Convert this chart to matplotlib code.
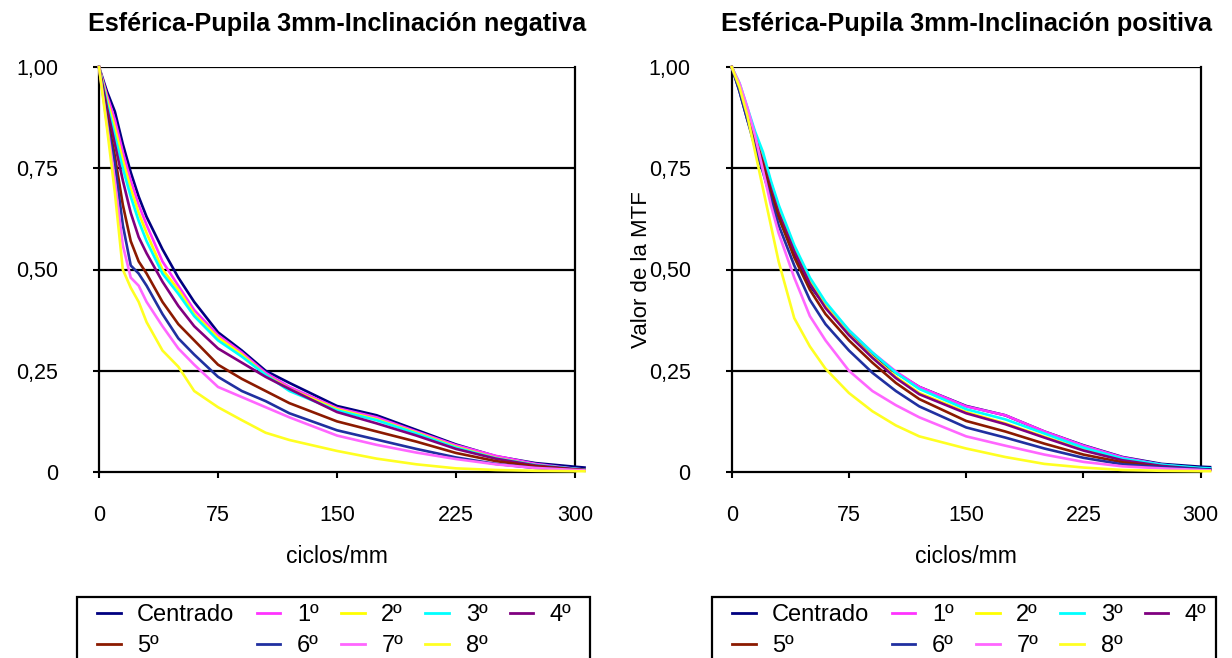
import numpy as np
import matplotlib
matplotlib.use("Agg")
import matplotlib.pyplot as plt
from matplotlib.patches import Rectangle

plt.rcParams['font.family'] = ['Liberation Sans', 'DejaVu Sans']

# --------------------------------------------------
# DATA
# --------------------------------------------------

freq = [0, 5, 10, 15, 20, 25, 30, 40, 50, 60, 75, 90, 105, 120,
        150, 175, 200, 225, 250, 275, 300, 306]

series_names = ["Centrado", "1º", "2º", "3º", "4º", "5º", "6º", "7º", "8º"]
series_colors = ["#000080", "#FF33FF", "#FFFF00", "#00FFFF", "#800080",
                 "#8B1A00", "#2030A0", "#FF66FF", "#FFFF22"]

# Inclinación negativa
neg_centrado = [1.0, 0.94, 0.89, 0.81, 0.74, 0.68, 0.63, 0.55, 0.48, 0.42, 0.345, 0.30, 0.25, 0.22,
                0.163, 0.14, 0.104, 0.068, 0.039, 0.022, 0.013, 0.011]
neg_1 = [1.0, 0.93, 0.87, 0.79, 0.72, 0.66, 0.61, 0.52, 0.46, 0.40, 0.338, 0.295, 0.245, 0.21,
         0.158, 0.135, 0.10, 0.066, 0.04, 0.02, 0.008, 0.006]
neg_2 = [1.0, 0.92, 0.85, 0.77, 0.70, 0.64, 0.59, 0.50, 0.45, 0.39, 0.332, 0.29, 0.24, 0.205,
         0.155, 0.13, 0.097, 0.062, 0.035, 0.017, 0.007, 0.005]
neg_3 = [1.0, 0.91, 0.83, 0.75, 0.68, 0.62, 0.57, 0.49, 0.44, 0.385, 0.325, 0.285, 0.24, 0.20,
         0.152, 0.128, 0.095, 0.06, 0.034, 0.017, 0.008, 0.006]
neg_4 = [1.0, 0.90, 0.81, 0.72, 0.64, 0.58, 0.54, 0.47, 0.41, 0.36, 0.305, 0.27, 0.235, 0.205,
         0.148, 0.12, 0.09, 0.057, 0.033, 0.016, 0.007, 0.005]
neg_5 = [1.0, 0.88, 0.78, 0.66, 0.57, 0.52, 0.49, 0.42, 0.365, 0.325, 0.265, 0.23, 0.20, 0.17,
         0.125, 0.10, 0.075, 0.047, 0.027, 0.014, 0.006, 0.005]
neg_6 = [1.0, 0.87, 0.76, 0.61, 0.51, 0.49, 0.46, 0.39, 0.33, 0.29, 0.235, 0.20, 0.175, 0.145,
         0.103, 0.08, 0.057, 0.036, 0.02, 0.01, 0.004, 0.003]
neg_7 = [1.0, 0.86, 0.72, 0.56, 0.48, 0.46, 0.42, 0.36, 0.305, 0.265, 0.21, 0.185, 0.16, 0.135,
         0.09, 0.067, 0.048, 0.032, 0.019, 0.01, 0.005, 0.004]
neg_8 = [1.0, 0.85, 0.69, 0.50, 0.455, 0.42, 0.37, 0.30, 0.26, 0.20, 0.16, 0.128, 0.097, 0.079,
         0.052, 0.033, 0.019, 0.009, 0.005, 0.003, 0.002, 0.002]

# Inclinación positiva
pos_centrado = [1.0, 0.94, 0.87, 0.81, 0.755, 0.69, 0.63, 0.54, 0.46, 0.41, 0.345, 0.29, 0.245, 0.21,
                0.163, 0.14, 0.10, 0.066, 0.037, 0.02, 0.013, 0.012]
pos_1 = [1.0, 0.955, 0.895, 0.835, 0.78, 0.715, 0.655, 0.555, 0.475, 0.415, 0.35, 0.295, 0.248, 0.21,
         0.162, 0.14, 0.10, 0.065, 0.036, 0.018, 0.008, 0.006]
pos_2 = [1.0, 0.955, 0.89, 0.83, 0.77, 0.705, 0.645, 0.55, 0.47, 0.41, 0.34, 0.285, 0.235, 0.195,
         0.148, 0.12, 0.087, 0.055, 0.03, 0.016, 0.008, 0.006]
pos_3 = [1.0, 0.96, 0.90, 0.84, 0.79, 0.72, 0.66, 0.56, 0.48, 0.42, 0.35, 0.295, 0.245, 0.205,
         0.155, 0.13, 0.095, 0.06, 0.033, 0.018, 0.01, 0.009]
pos_4 = [1.0, 0.95, 0.885, 0.825, 0.765, 0.70, 0.64, 0.545, 0.465, 0.405, 0.338, 0.282, 0.232, 0.192,
         0.145, 0.118, 0.085, 0.053, 0.029, 0.015, 0.007, 0.006]
pos_5 = [1.0, 0.95, 0.88, 0.82, 0.76, 0.69, 0.63, 0.53, 0.45, 0.39, 0.325, 0.27, 0.22, 0.18,
         0.126, 0.10, 0.07, 0.043, 0.024, 0.012, 0.006, 0.005]
pos_6 = [1.0, 0.94, 0.87, 0.80, 0.74, 0.675, 0.61, 0.51, 0.425, 0.365, 0.30, 0.245, 0.20, 0.162,
         0.11, 0.085, 0.058, 0.035, 0.019, 0.012, 0.007, 0.006]
pos_7 = [1.0, 0.96, 0.90, 0.83, 0.745, 0.66, 0.59, 0.48, 0.385, 0.325, 0.25, 0.20, 0.165, 0.135,
         0.088, 0.065, 0.043, 0.025, 0.014, 0.009, 0.005, 0.004]
pos_8 = [1.0, 0.95, 0.88, 0.79, 0.70, 0.61, 0.52, 0.38, 0.31, 0.255, 0.195, 0.15, 0.115, 0.088,
         0.058, 0.037, 0.02, 0.011, 0.005, 0.003, 0.002, 0.002]

neg_series = [neg_centrado, neg_1, neg_2, neg_3, neg_4, neg_5, neg_6, neg_7, neg_8]
pos_series = [pos_centrado, pos_1, pos_2, pos_3, pos_4, pos_5, pos_6, pos_7, pos_8]

x_ticks = [0, 75, 150, 225, 300]
y_ticks = [0, 0.25, 0.5, 0.75, 1.0]
y_ticklabels = ["0", "0,25", "0,50", "0,75", "1,00"]

titles = ["Esférica-Pupila 3mm-Inclinación negativa",
          "Esférica-Pupila 3mm-Inclinación positiva"]

# --------------------------------------------------
# PLOT
# --------------------------------------------------

W, H = 1232, 658
fig = plt.figure(figsize=(W / 100, H / 100), dpi=100)

axes_px = [(99, 575), (731.7, 1200.7)]
top_px, bot_px = 67, 472
legend_box_px = [(77, 590), (712, 1216)]
legend_top_px = 597

for i, (x0, x1) in enumerate(axes_px):
    ax = fig.add_axes([x0 / W, 1 - bot_px / H, (x1 - x0) / W, (bot_px - top_px) / H])
    data = neg_series if i == 0 else pos_series

    lines = []
    for vals, name, col in zip(data, series_names, series_colors):
        ln, = ax.plot(freq, vals, color=col, lw=1.9, label=name,
                      clip_on=False, zorder=3)
        lines.append(ln)

    ax.set_xlim(0, 300)
    ax.set_ylim(0, 1)
    ax.set_xticks(x_ticks)
    ax.set_yticks(y_ticks)
    ax.set_yticklabels(y_ticklabels)

    for y in y_ticks[1:]:
        ax.axhline(y, color="black", lw=1.6, zorder=2)

    for sp in ax.spines.values():
        sp.set_color("black")
        sp.set_linewidth(1.6)
    ax.spines["top"].set_visible(False)

    ax.tick_params(axis="both", direction="out", length=4.5, width=1.5,
                   labelsize=15.5)
    ax.tick_params(axis="y", pad=25)
    ax.tick_params(axis="x", pad=19)

    ax.set_xlabel("ciclos/mm", fontsize=16.5, labelpad=14)
    ax.set_title(titles[i], fontsize=18.2, fontweight="bold", pad=26)

    if i == 1:
        ax.set_ylabel("Valor de la MTF", fontsize=16)
        ax.yaxis.set_label_coords(-0.17, 0.5)

    # legend box (cut by the bottom edge, as in the reference)
    bx0, bx1 = legend_box_px[i]
    fig.add_artist(Rectangle((bx0 / W, -0.05), (bx1 - bx0) / W,
                             (H - legend_top_px) / H + 0.05,
                             transform=fig.transFigure, fill=False,
                             ec="black", lw=1.6))

    # row-major order like the reference legend
    order = [0, 5, 1, 6, 2, 7, 3, 8, 4]
    leg = ax.legend([lines[k] for k in order], [series_names[k] for k in order],
                    ncol=5, loc="upper left",
                    bbox_to_anchor=((bx0 + 20) / W, 1 - 604 / H),
                    bbox_transform=fig.transFigure,
                    fontsize=17, frameon=False,
                    handlelength=1.0, handletextpad=0.7, columnspacing=0.95,
                    labelspacing=0.4, borderpad=0, borderaxespad=0)
    for h in leg.get_lines():
        h.set_linewidth(2.0)

fig.savefig("out.png", dpi=100)
